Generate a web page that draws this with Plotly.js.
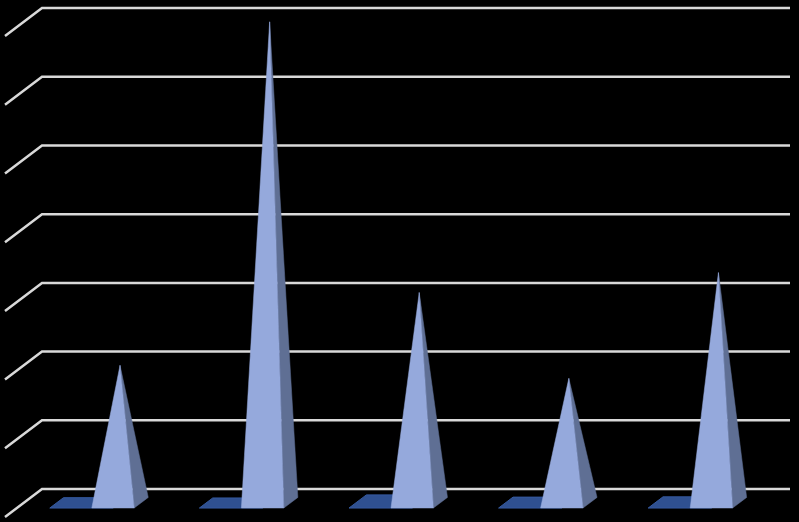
<!DOCTYPE html>
<html>
<head>
<meta charset="utf-8">
<script src="https://cdn.plot.ly/plotly-3.0.1.min.js"></script>
<style>html,body{margin:0;padding:0;background:#000;overflow:hidden}</style>
</head>
<body>
<div id="chart" style="width:799px;height:522px"></div>
<script>
const categories = [0, 1, 2, 3, 4];
const values = [2.0, 7.0, 3.06, 1.81, 3.35];
const gridLevels = [0, 1, 2, 3, 4, 5, 6, 7];
const floorDepths = [0.37, 0.36, 0.47, 0.39, 0.40];

// axis units: 1 x unit = one category, 1 y unit = one grid step
const PXX = 149.6, PXY = 68.7;
const DX = -37 / PXX, DY = -28 / PXY;      // oblique direction of the floor, back to front
const HALF = 21.2 / PXX;                    // half width of a pyramid's base
const FRONT = 0.68, BACK = 0.3;             // depth of the base's front and back edges
const SHADOW_SHIFT = 42 / PXX;              // the floor patch sits left of the pyramid
const gridRight = (790 - 113) / PXX, gridBack = (42 - 113) / PXX;

function poly(points, fill, lineColor, lineWidth) {
  const xs = points.map(p => p[0]), ys = points.map(p => p[1]);
  xs.push(xs[0]); ys.push(ys[0]);
  return {type: 'scatter', mode: 'lines', x: xs, y: ys, fill: 'toself', fillcolor: fill,
          line: {color: lineColor || fill, width: lineWidth === undefined ? 0.5 : lineWidth},
          hoverinfo: 'skip', showlegend: false};
}

const traces = [];
gridLevels.forEach(k => {
  traces.push({type: 'scatter', mode: 'lines',
    x: [gridBack + DX, gridBack, gridRight], y: [k + DY, k, k],
    line: {color: '#d9d9d9', width: 2.5}, hoverinfo: 'skip', showlegend: false});
});
const frontY = FRONT * DY;
categories.forEach((c, i) => {
  const sl = c - HALF - SHADOW_SHIFT;
  const d = floorDepths[i];
  traces.push(poly([[sl, frontY], [c, frontY], [c - d * DX, frontY - d * DY], [sl - d * DX, frontY - d * DY]], '#2f5090', '#35599f', 1));
});
categories.forEach((c, i) => {
  const fl = [c - HALF, frontY];
  const fr = [c + HALF, frontY];
  const br = [fr[0] - (FRONT - BACK) * DX, frontY - (FRONT - BACK) * DY];
  const apex = [(fl[0] + br[0]) / 2, (fl[1] + br[1]) / 2 + values[i]];
  traces.push(poly([fr, br, apex], '#5f6f94'));
  traces.push(poly([fl, fr, apex], '#95a9dc'));
});

const layout = {
  width: 799, height: 522,
  margin: {l: 0, r: 0, t: 0, b: 0},
  paper_bgcolor: '#000', plot_bgcolor: '#000',
  showlegend: false, hovermode: false,
  xaxis: {visible: false, range: [-113 / PXX, (799 - 113) / PXX], fixedrange: true},
  yaxis: {visible: false, range: [-33 / PXY, 489 / PXY], fixedrange: true}
};
Plotly.newPlot('chart', traces, layout, {displayModeBar: false, staticPlot: true});
</script>
</body>
</html>
